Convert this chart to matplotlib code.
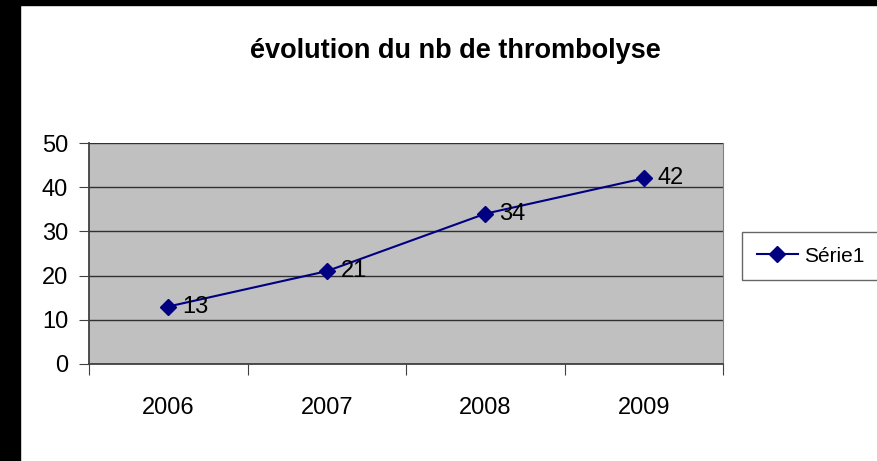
import matplotlib.pyplot as plt
from matplotlib.patches import Rectangle
from matplotlib.lines import Line2D

# Données
years = ['2006', '2007', '2008', '2009']
values = [13, 21, 34, 42]
series_name = 'Série1'
title = 'évolution du nb de thrombolyse'

plt.rcParams['font.family'] = ['Liberation Sans', 'DejaVu Sans']

fig = plt.figure(figsize=(8.77, 4.61), dpi=100)
W, H = 877, 461

# bordure noire (gauche et haut)
fig.patches.append(Rectangle((0, 0), 20 / W, 1, transform=fig.transFigure,
                             color='black', zorder=0))
fig.patches.append(Rectangle((0, 1 - 5 / H), 1, 5 / H, transform=fig.transFigure,
                             color='black', zorder=0))

# zone de tracé
ax = fig.add_axes([89 / W, 1 - 364 / H, (723 - 89) / W, (364 - 143) / H])
ax.set_facecolor('#c0c0c0')

x = list(range(len(years)))
ax.plot(x, values, color='#000080', lw=1.5, marker='D', ms=8, zorder=3)
for xi, v in zip(x, values):
    ax.annotate(str(v), (xi, v), xytext=(10, 0), textcoords='offset points',
                va='center', ha='left', fontsize=17)

ax.set_xlim(-0.5, len(years) - 0.5)
ax.set_ylim(0, 50)
ax.set_yticks(range(0, 51, 10))
ax.yaxis.grid(True, color='#303030', lw=1)
ax.set_axisbelow(True)

# graduations x aux limites des catégories
ax.set_xticks([i - 0.5 for i in range(len(years) + 1)])
ax.set_xticklabels([])
ax.set_xticks(x, minor=True)
ax.set_xticklabels(years, minor=True, fontsize=17)
ax.tick_params(axis='x', which='minor', length=0, pad=24)
ax.tick_params(axis='x', which='major', length=8, color='#404040', direction='out')
ax.tick_params(axis='y', length=7, color='#404040', labelsize=17, pad=8)

ax.spines['top'].set_visible(False)
ax.spines['left'].set_color('#404040')
ax.spines['bottom'].set_color('#404040')
ax.spines['right'].set_color('#808080')
ax.spines['left'].set_linewidth(1.3)
ax.spines['bottom'].set_linewidth(1.3)

fig.text(455 / W, 1 - 51 / H, title, ha='center', va='center',
         fontsize=19.5, fontweight='bold')

# légende
handle = Line2D([], [], color='#000080', lw=1.5, marker='D', ms=8)
leg = fig.legend([handle], [series_name], loc='center left',
                 bbox_to_anchor=(742 / W, 1 - 256 / H), fontsize=15,
                 frameon=True, fancybox=False, edgecolor='#404040',
                 handlelength=2.0, borderpad=0.7, handletextpad=0.3,
                 borderaxespad=0)
leg.get_frame().set_linewidth(1)

fig.savefig('out.png', dpi=100)
